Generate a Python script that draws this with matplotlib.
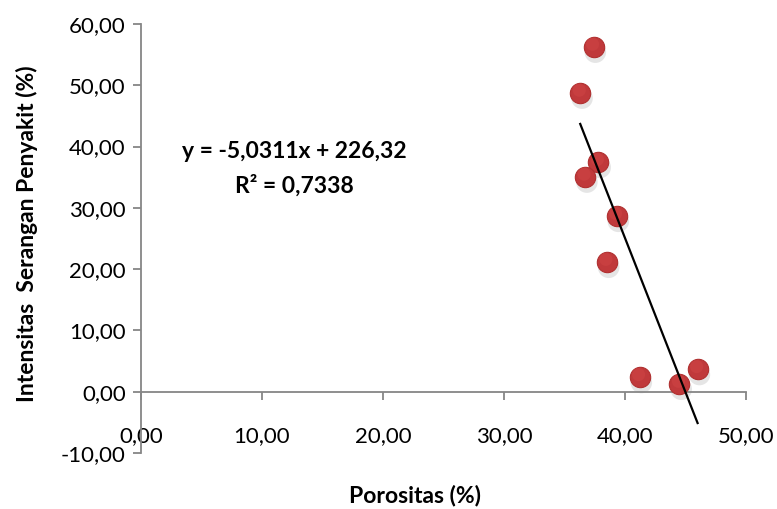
import matplotlib
matplotlib.use("Agg")
import matplotlib.pyplot as plt
import numpy as np

porositas = [37.4, 36.3, 37.8, 36.7, 39.3, 38.5, 41.2, 44.5, 46.0]
intensitas = [56.3, 48.8, 37.5, 35.1, 28.7, 21.2, 2.4, 1.3, 3.7]
slope = -5.0311
intercept = 226.32
eq_text = "y = -5,0311x + 226,32"
r2_text = "R² = 0,7338"
x_ticks = [0, 10, 20, 30, 40, 50]
y_ticks = [-10, 0, 10, 20, 30, 40, 50, 60]

def fmt(v):
    return f"{v:.2f}".replace(".", ",")

plt.rcParams['font.family'] = ['Lato', 'DejaVu Sans']
fig = plt.figure(figsize=(7.77, 5.09), dpi=100)
ax = fig.add_axes([141/777, 1-453/509, (746-141)/777, (453-24)/509])
ax.set_xlim(0, 50)
ax.set_ylim(-10, 60)

gray = '#868686'
for s in ['top', 'right']:
    ax.spines[s].set_visible(False)
ax.spines['bottom'].set_position(('data', 0))
ax.spines['bottom'].set_color(gray)
ax.spines['left'].set_color(gray)
ax.spines['bottom'].set_linewidth(1.3)
ax.spines['left'].set_linewidth(1.3)

ax.set_xticks(x_ticks)
ax.set_xticklabels([fmt(v) for v in x_ticks])
ax.set_yticks(y_ticks)
ax.set_yticklabels([fmt(v) for v in y_ticks])
ax.tick_params(axis='x', direction='out', length=6, width=1.3, color=gray, pad=19, labelsize=16)
ax.tick_params(axis='y', direction='out', length=6, width=1.3, color=gray, pad=5, labelsize=16)

# shadow
xs = np.array(porositas); ys = np.array(intensitas)
ax.scatter(xs + 0.15, ys - 0.9, s=240, color='#999999', alpha=0.25, edgecolors='none', zorder=2)
ax.scatter(xs, ys, s=215, color='#C0393B', edgecolors='#B03030', linewidths=0.8, zorder=3)
ax.scatter(xs - 0.08, ys + 0.4, s=90, color='#D04545', edgecolors='none', alpha=0.5, zorder=4)

xl = np.array([min(porositas), max(porositas)])
ax.plot(xl, slope * xl + intercept, color='black', lw=1.6, zorder=5, clip_on=False)

fig.text(294/777, 1-152/509, eq_text, ha='center', va='center', fontsize=16.5, fontweight='bold')
fig.text(294/777, 1-186/509, r2_text, ha='center', va='center', fontsize=16.5, fontweight='bold')
fig.text(415/777, 1-496/509, "Porositas (%)", ha='center', va='center', fontsize=16.5, fontweight='bold')
fig.text(27/777, 1-234/509, "Intensitas  Serangan Penyakit (%)", ha='center', va='center',
         rotation=90, fontsize=16.5, fontweight='bold')

fig.savefig("out.png", dpi=100)
